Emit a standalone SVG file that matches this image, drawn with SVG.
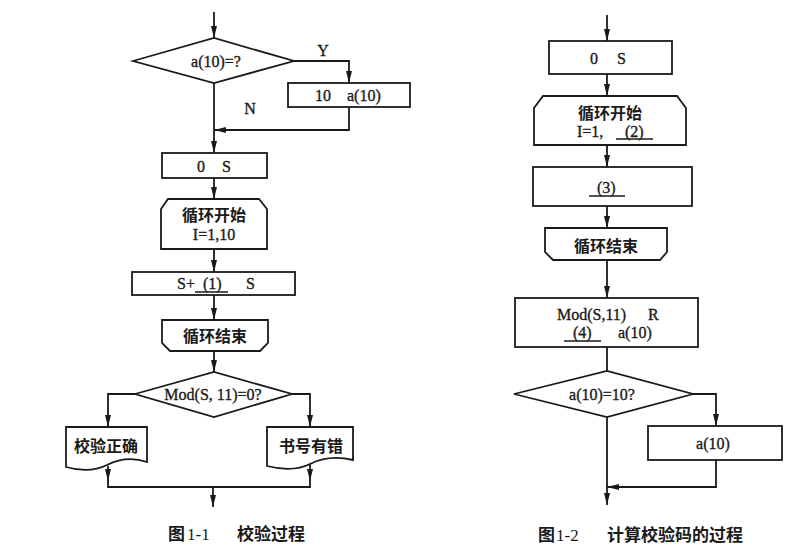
<svg xmlns="http://www.w3.org/2000/svg" width="789" height="552" viewBox="0 0 789 552">
<defs>
<marker id="arr" viewBox="0 0 12 6" refX="12" refY="3" markerWidth="12" markerHeight="6" orient="auto" markerUnits="userSpaceOnUse">
<path d="M0,0 L12,3 L0,6 Z" fill="#1a1a1a"/>
</marker>
<style>
.s{fill:#fff;stroke:#1a1a1a;stroke-width:1.8}
.c{fill:none;stroke:#1a1a1a;stroke-width:1.8}
.ca{fill:none;stroke:#1a1a1a;stroke-width:1.8;marker-end:url(#arr)}
.t{font-family:"Liberation Serif","Times New Roman",serif;font-size:16px;fill:#1a1a1a;stroke:#1a1a1a;stroke-width:0.35}
.z{font-family:"Liberation Serif","Noto Sans CJK SC",serif;font-size:16px;font-weight:bold;fill:#1a1a1a}
.cap{font-family:"Liberation Serif","Noto Sans CJK SC",serif;font-size:17px;font-weight:bold;fill:#1a1a1a}
.u{stroke:#1a1a1a;stroke-width:1.4}
</style>
</defs>
<rect width="789" height="552" fill="#fff"/>

<g id="connectors">
<path class="ca" d="M214,12 V38"/>
<path class="ca" d="M294,61 H349 V83"/>
<path class="ca" d="M349,107 V130 H214"/>
<path class="ca" d="M214,83 V153"/>
<path class="ca" d="M214,178 V199"/>
<path class="ca" d="M214,249 V272"/>
<path class="ca" d="M214,295 V320"/>
<path class="ca" d="M214,351 V372"/>
<path class="ca" d="M135,394 H108 V427"/>
<path class="ca" d="M292,394 H310 V427"/>
<path class="ca" d="M108,466 V481"/>
<path class="ca" d="M310,461 V481"/>
<path class="c" d="M108,480 V487 H310 V480"/>
<path class="ca" d="M213,487 V507"/>
<path class="ca" d="M607,15 V41"/>
<path class="ca" d="M607,74 V96"/>
<path class="ca" d="M607,145 V167"/>
<path class="ca" d="M607,206 V228"/>
<path class="ca" d="M607,260 V298"/>
<path class="c" d="M607,347 V371"/>
<path class="ca" d="M693,394 H716 V426"/>
<path class="ca" d="M716,460 V487 H607"/>
<path class="ca" d="M607,417 V505"/>
</g>

<g id="L-decision1">
<polygon class="s" points="133,61 214,38 294,61 214,83"/>
<text class="t" x="216" y="67" text-anchor="middle">a(10)=?</text>
</g>
<g id="L-label-Y"><text class="t" x="323" y="56" text-anchor="middle">Y</text></g>
<g id="L-label-N"><text class="t" x="250" y="114" text-anchor="middle">N</text></g>
<g id="L-assign10">
<rect class="s" x="288" y="83" width="122" height="24"/>
<text class="t" x="315" y="101">10</text>
<text class="t" x="347" y="101">a(10)</text>
</g>
<g id="L-init">
<rect class="s" x="162" y="153" width="105" height="25"/>
<text class="t" x="197" y="172">0</text>
<text class="t" x="222" y="172">S</text>
</g>
<g id="L-loopstart">
<path class="s" d="M161,249 V209 L168,199 H259 L267,209 V249 Z"/>
<text class="z" x="214" y="221" text-anchor="middle">循环开始</text>
<text class="t" x="214" y="240" text-anchor="middle">I=1,10</text>
</g>
<g id="L-sum">
<rect class="s" x="132" y="272" width="163" height="23"/>
<text class="t" x="177" y="289">S+</text>
<text class="t" x="203" y="289">(1)</text>
<line class="u" x1="195" y1="292" x2="228" y2="292"/>
<text class="t" x="246" y="289">S</text>
</g>
<g id="L-loopend">
<path class="s" d="M162,320 H268 V343 L260,351 H170 L162,343 Z"/>
<text class="z" x="215" y="342" text-anchor="middle">循环结束</text>
</g>
<g id="L-decision2">
<polygon class="s" points="135,394 214,372 292,394 214,417"/>
<text class="t" x="213" y="400" text-anchor="middle">Mod(S, 11)=0?</text>
</g>
<g id="L-ok">
<path class="s" d="M66,427 H147 V462 C132,457 119,459 107,465 C95,471 80,471 66,467 Z"/>
<text class="z" x="106" y="452" text-anchor="middle">校验正确</text>
</g>
<g id="L-err">
<path class="s" d="M267,427 H353 V460 C336,456 322,458 310,464 C298,470 283,470 267,466 Z"/>
<text class="z" x="311" y="452" text-anchor="middle">书号有错</text>
</g>
<g id="L-caption">
<text class="cap" x="168" y="540">图</text>
<text class="cap" x="187" y="540" style="font-weight:normal">1-1</text>
<text class="cap" x="237" y="540">校验过程</text>
</g>

<g id="R-init">
<rect class="s" x="549" y="41" width="123" height="33"/>
<text class="t" x="590" y="64">0</text>
<text class="t" x="617" y="64">S</text>
</g>
<g id="R-loopstart">
<path class="s" d="M534,145 V108 L543,96 H677 L686,108 V145 Z"/>
<text class="z" x="610" y="119" text-anchor="middle">循环开始</text>
<text class="t" x="577" y="137">I=1,</text>
<text class="t" x="625" y="137">(2)</text>
<line class="u" x1="616" y1="139" x2="653" y2="139"/>
</g>
<g id="R-body">
<rect class="s" x="533" y="167" width="159" height="39"/>
<text class="t" x="597" y="193">(3)</text>
<line class="u" x1="589" y1="196" x2="625" y2="196"/>
</g>
<g id="R-loopend">
<path class="s" d="M545,228 H667 V252 L660,260 H553 L545,252 Z"/>
<text class="z" x="606" y="252" text-anchor="middle">循环结束</text>
</g>
<g id="R-mod">
<rect class="s" x="515" y="298" width="183" height="49"/>
<text class="t" x="557" y="320">Mod(S,11)</text>
<text class="t" x="648" y="320">R</text>
<text class="t" x="573" y="338">(4)</text>
<line class="u" x1="564" y1="341" x2="601" y2="341"/>
<text class="t" x="618" y="338">a(10)</text>
</g>
<g id="R-decision">
<polygon class="s" points="514,394 607,371 693,394 607,417"/>
<text class="t" x="602" y="400" text-anchor="middle">a(10)=10?</text>
</g>
<g id="R-assign">
<rect class="s" x="648" y="426" width="134" height="34"/>
<text class="t" x="713" y="449" text-anchor="middle">a(10)</text>
</g>
<g id="R-caption">
<text class="cap" x="538" y="541">图</text>
<text class="cap" x="556" y="541" style="font-weight:normal">1-2</text>
<text class="cap" x="607" y="541">计算校验码的过程</text>
</g>
</svg>
